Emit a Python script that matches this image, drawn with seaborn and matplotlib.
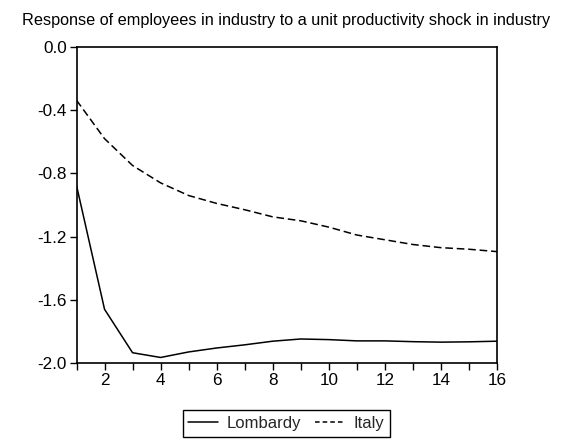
import matplotlib
matplotlib.use("Agg")
import matplotlib.pyplot as plt
import seaborn as sns
import pandas as pd
from matplotlib.ticker import MultipleLocator
from matplotlib.lines import Line2D

# impulse response values
periods = list(range(1, 17))
lombardy = [-0.876, -1.66, -1.935, -1.965, -1.93, -1.905, -1.885, -1.862, -1.848,
            -1.852, -1.86, -1.86, -1.865, -1.868, -1.866, -1.862]
italy = [-0.337, -0.58, -0.75, -0.86, -0.94, -0.99, -1.03, -1.075, -1.10,
         -1.14, -1.19, -1.22, -1.25, -1.27, -1.28, -1.295]
y_ticks = [0.0, -0.4, -0.8, -1.2, -1.6, -2.0]

sns.set_theme(style="white")
plt.rcParams['font.family'] = ['Liberation Sans', 'DejaVu Sans']

df = pd.DataFrame({'period': periods * 2,
                   'value': lombardy + italy,
                   'region': ['Lombardy'] * 16 + ['Italy'] * 16})

fig = plt.figure(figsize=(5.73, 4.41), dpi=100)
ax = fig.add_axes([76.5 / 573, 1 - 363 / 441, (497 - 76.5) / 573, (363 - 47) / 441])

sns.lineplot(data=df, x='period', y='value', hue='region', style='region',
             palette={'Lombardy': 'black', 'Italy': 'black'},
             dashes={'Lombardy': '', 'Italy': (5, 2.5)},
             linewidth=1.1, ax=ax, legend=False)

ax.set_xlim(1, 16)
ax.set_ylim(-2.0, 0.0)
ax.set_yticks(y_ticks)
ax.set_yticklabels([f"{v:.1f}" for v in y_ticks])
ax.xaxis.set_major_locator(MultipleLocator(2))
ax.xaxis.set_minor_locator(MultipleLocator(1))
ax.set_xlabel('')
ax.set_ylabel('')
for s in ax.spines.values():
    s.set_color('black')
    s.set_linewidth(1.2)
ax.tick_params(axis='both', which='both', direction='out', length=5, width=1,
               color='black', labelsize=12.3, labelcolor='black', pad=2,
               bottom=True, left=True)
ax.tick_params(axis='x', which='minor', length=5)

fig.text(286.5 / 573, 1 - 25 / 441,
         'Response of employees in industry to a unit productivity shock in industry',
         fontsize=11.7, ha='center', va='baseline', color='black')

handles = [Line2D([], [], color='black', lw=1.1),
           Line2D([], [], color='black', lw=1.1, ls=(0, (3, 2)))]
fig.legend(handles, ['Lombardy', 'Italy'], loc='center',
           bbox_to_anchor=(286.5 / 573, 1 - 423.5 / 441),
           ncol=2, frameon=True, fancybox=False, edgecolor='black', fontsize=12,
           handlelength=1.8, handletextpad=0.5, columnspacing=0.85,
           borderpad=0.35, framealpha=1)

fig.savefig('out.png', dpi=100)
